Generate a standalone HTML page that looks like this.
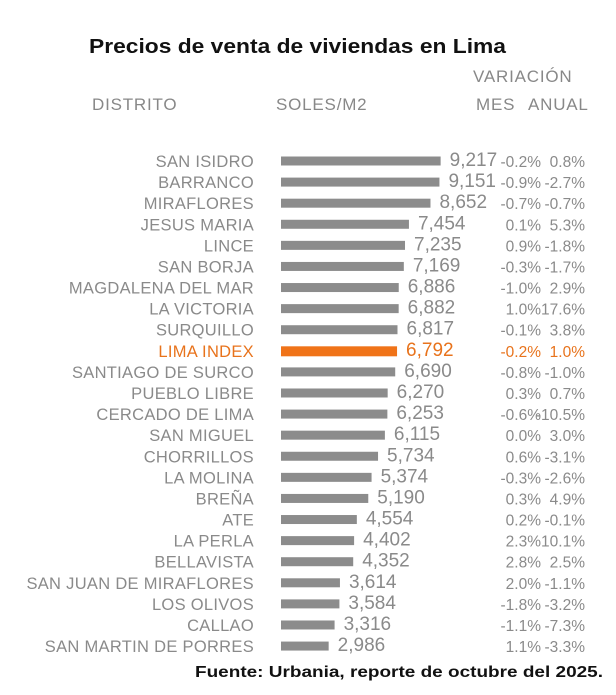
<!DOCTYPE html>
<html><head><meta charset="utf-8"><style>
body{margin:0;background:#fff;width:616px;height:695px;overflow:hidden;font-family:"Liberation Sans",sans-serif}
svg{display:block}
</style></head><body>
<svg width="616" height="695">
<text x="89" y="53" textLength="417" lengthAdjust="spacingAndGlyphs" font-size="20" font-weight="bold" fill="#111">Precios de venta de viviendas en Lima</text>
<text x="92" y="110" font-size="17" letter-spacing="0.8" fill="#888">DISTRITO</text>
<text x="276" y="110" font-size="17" letter-spacing="0.8" fill="#888">SOLES/M2</text>
<text x="473" y="82" font-size="17" letter-spacing="0.8" fill="#888">VARIACIÓN</text>
<text x="476" y="110" font-size="17" letter-spacing="0.8" fill="#888">MES</text>
<text x="528" y="110" font-size="17" letter-spacing="0.8" fill="#888">ANUAL</text>
<g id="rows"></g>
<text x="195" y="677" textLength="408" lengthAdjust="spacingAndGlyphs" font-size="16" font-weight="bold" fill="#111">Fuente: Urbania, reporte de octubre del 2025.</text>
</svg>
<script>
const districts=["SAN ISIDRO","BARRANCO","MIRAFLORES","JESUS MARIA","LINCE","SAN BORJA","MAGDALENA DEL MAR","LA VICTORIA","SURQUILLO","LIMA INDEX","SANTIAGO DE SURCO","PUEBLO LIBRE","CERCADO DE LIMA","SAN MIGUEL","CHORRILLOS","LA MOLINA","BREÑA","ATE","LA PERLA","BELLAVISTA","SAN JUAN DE MIRAFLORES","LOS OLIVOS","CALLAO","SAN MARTIN DE PORRES"];
const prices=[9217,9151,8652,7454,7235,7169,6886,6882,6817,6792,6690,6270,6253,6115,5734,5374,5190,4554,4402,4352,3614,3584,3316,2986];
const mes=["-0.2%","-0.9%","-0.7%","0.1%","0.9%","-0.3%","-1.0%","1.0%","-0.1%","-0.2%","-0.8%","0.3%","-0.6%","0.0%","0.6%","-0.3%","0.3%","0.2%","2.3%","2.8%","2.0%","-1.8%","-1.1%","1.1%"];
const anual=["0.8%","-2.7%","-0.7%","5.3%","-1.8%","-1.7%","2.9%","17.6%","3.8%","1.0%","-1.0%","0.7%","-10.5%","3.0%","-3.1%","-2.6%","4.9%","-0.1%","10.1%","2.5%","-1.1%","-3.2%","-7.3%","-3.3%"];
const g=document.getElementById('rows');
const NS="http://www.w3.org/2000/svg";
const x=v=>275+v*0.01797;
const y=i=>161+i*21.09;
function t(txt,xx,yy,anchor,size,fill){const e=document.createElementNS(NS,'text');e.setAttribute('x',xx);e.setAttribute('y',yy);e.setAttribute('text-anchor',anchor);e.setAttribute('font-size',size);e.setAttribute('fill',fill);e.textContent=txt;g.appendChild(e);return e;}
districts.forEach((d,i)=>{
 const idx=d==="LIMA INDEX";const c=idx?"#f07318":"#8c8c8c";const tc=idx?"#e8731c":"#8a8a8a";
 const cy=y(i);
 let e=t(d,254,cy+6,'end',16.5,tc);
 e.setAttribute('letter-spacing','0.3');
 
 
 const r=document.createElementNS(NS,'rect');
 r.setAttribute('x',281);r.setAttribute('y',cy-4.5);r.setAttribute('width',x(prices[i])-281);r.setAttribute('height',idx?10:9);r.setAttribute('fill',c);
 
 
 g.appendChild(r);
 e=t(prices[i].toLocaleString('en-US'),x(prices[i])+9,cy+5,'start',19,tc);
 
 
 e=t(mes[i],541,cy+6,'end',15.5,tc);
 
 
 e=t(anual[i],585,cy+6,'end',15.5,tc);
 
 
});
</script>
</body></html>
